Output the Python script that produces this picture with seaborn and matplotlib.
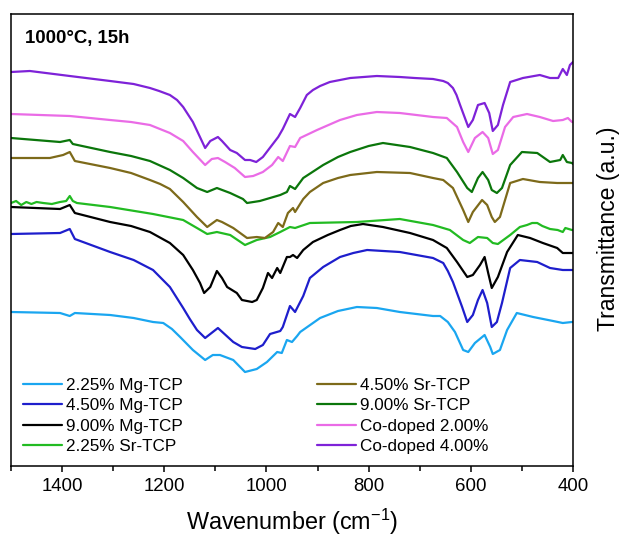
import matplotlib
matplotlib.use("Agg")
import matplotlib.pyplot as plt
from matplotlib.ticker import MultipleLocator
from matplotlib.lines import Line2D
import seaborn as sns
import pandas as pd

# ---------------- data (y in arbitrary units) ----------------
labels = ["2.25% Mg-TCP", "4.50% Mg-TCP", "9.00% Mg-TCP", "2.25% Sr-TCP",
          "4.50% Sr-TCP", "9.00% Sr-TCP", "Co-doped 2.00%", "Co-doped 4.00%"]
colors = ["#1AA6F0", "#1E1ECC", "#000000", "#22BB22",
          "#7D6A1A", "#0B760B", "#EA6BE6", "#7E22D8"]

wn_mg225 = [1500,1404,1385,1375,1306,1260,1222,1202,1185,1169,1144,1120,1105,1091,1065,1042,1019,999,979,970,960,950,940,934,895,860,823,784,739,674,660,645,631,615,605,592,573,562,557,543,529,510,478,439,420,402,400]
mg225 = [154,153,150,153,151,148,144,143,137,129,116,106,111,111,106,94,97,104,114,113,126,124,130,134,148,155,159,158,154,150,150,144,134,116,114,123,131,119,112,116,136,153,149,145,143,144,144]

wn_mg45 = [1500,1404,1385,1375,1306,1260,1222,1189,1163,1150,1136,1120,1095,1065,1048,1022,1007,993,973,968,954,944,928,915,889,856,830,803,739,674,654,645,635,617,607,596,586,577,568,559,549,539,523,504,470,445,420,400]
mg45 = [232,233,237,227,214,206,196,179,158,147,136,128,138,124,119,117,121,132,135,139,160,154,170,188,199,209,213,216,214,208,203,195,184,159,144,151,166,176,163,139,144,163,198,206,204,198,196,196]

wn_mg9 = [1500,1404,1385,1375,1306,1265,1228,1189,1163,1144,1130,1122,1110,1097,1087,1077,1058,1048,1028,1019,1007,997,989,979,973,960,954,948,940,928,909,880,856,835,811,772,719,674,647,627,607,596,582,573,566,559,547,529,508,484,459,431,420,402,400]
mg9 = [259,257,261,253,244,240,234,223,211,196,183,173,179,195,188,179,173,166,164,166,178,193,188,198,193,209,209,211,208,216,224,231,236,240,242,239,233,226,218,204,189,191,201,209,193,178,189,214,231,228,223,218,213,213,213]

wn_sr225 = [1500,1490,1480,1470,1460,1450,1437,1420,1404,1392,1385,1379,1371,1306,1222,1163,1136,1116,1097,1071,1042,1019,993,973,954,944,915,823,739,674,641,615,602,586,568,557,547,523,504,490,480,470,460,445,430,420,415,402,400]
sr225 = [263,265,261,264,262,264,263,262,264,265,270,265,263,259,252,246,238,232,234,231,221,226,229,234,239,238,243,244,247,241,236,226,223,229,228,223,222,231,239,241,243,243,240,237,236,234,238,236,236]

wn_sr45 = [1500,1424,1398,1385,1375,1306,1265,1228,1208,1189,1163,1136,1116,1097,1087,1065,1038,1019,1003,987,977,968,958,948,944,928,915,889,860,836,784,719,674,654,635,615,605,596,578,568,559,553,543,533,523,498,465,431,400]
sr45 = [308,308,311,314,305,298,293,286,282,277,264,249,239,246,244,238,228,229,228,234,243,239,253,258,254,267,274,283,288,291,294,293,288,286,278,256,244,254,266,261,249,244,249,266,283,287,284,283,283]

wn_sr9 = [1500,1404,1385,1379,1306,1265,1228,1189,1163,1136,1116,1097,1071,1046,1038,1013,973,960,954,944,928,889,860,836,800,772,719,674,647,627,607,598,586,577,566,559,549,539,523,500,470,445,425,420,412,402,400]
sr9 = [328,324,326,322,314,310,305,296,288,278,274,278,273,267,263,265,271,274,280,277,288,301,309,314,320,323,319,313,308,294,278,274,288,294,286,276,273,278,301,314,313,304,306,311,304,303,302]

wn_co2 = [1500,1385,1306,1265,1228,1189,1163,1144,1120,1107,1095,1081,1062,1042,1026,1007,989,977,968,954,944,934,901,856,823,784,739,674,647,627,615,605,592,577,566,557,547,533,517,490,465,439,420,410,402,400]
co2 = [352,350,346,344,341,333,325,314,301,307,308,304,298,289,290,294,301,309,305,320,319,328,336,346,351,354,353,349,348,339,324,314,328,334,328,312,316,339,349,352,349,345,346,348,344,344]

wn_co4 = [1500,1463,1385,1306,1260,1228,1210,1189,1175,1163,1144,1120,1110,1095,1087,1071,1058,1042,1032,1020,1007,989,977,968,954,944,934,921,909,895,876,856,836,784,739,710,674,654,645,635,628,621,605,596,586,573,564,557,547,537,523,498,465,445,429,420,412,406,400]
co4 = [394,395,390,385,382,378,375,371,366,359,344,318,325,329,325,316,313,306,306,304,309,321,329,337,352,349,358,371,376,380,384,386,388,390,389,388,387,385,383,378,371,361,339,346,361,363,353,335,341,361,384,388,391,388,388,397,391,401,404]

x_ticks = [1400, 1200, 1000, 800, 600, 400]
title_text = "1000°C, 15h"

series = [(wn_mg225, mg225), (wn_mg45, mg45), (wn_mg9, mg9), (wn_sr225, sr225),
          (wn_sr45, sr45), (wn_sr9, sr9), (wn_co2, co2), (wn_co4, co4)]
frames = []
for lab, (wn, val) in zip(labels, series):
    frames.append(pd.DataFrame({"wn": wn, "T": val, "sample": lab}))
df = pd.concat(frames, ignore_index=True)

# ---------------- style ----------------
sns.set_theme(style="ticks")
plt.rcParams["font.family"] = ["Liberation Sans", "DejaVu Sans"]
plt.rcParams["mathtext.default"] = "regular"
plt.rcParams["mathtext.fontset"] = "custom"
plt.rcParams["mathtext.rm"] = "Liberation Sans"
plt.rcParams["mathtext.it"] = "Liberation Sans"
plt.rcParams["text.color"] = "black"
plt.rcParams["axes.labelcolor"] = "black"
plt.rcParams["xtick.color"] = "black"
plt.rcParams["ytick.color"] = "black"

fig = plt.figure(figsize=(6.19, 5.37), dpi=100)
ax = fig.add_axes([11/619, 71/537, 562/619, 452/537])

palette = dict(zip(labels, colors))
sns.lineplot(data=df, x="wn", y="T", hue="sample", hue_order=labels,
             palette=palette, estimator=None, sort=True, linewidth=1.6,
             legend=False, ax=ax)

ax.set_xlim(1500, 400)
ax.set_ylim(0, 452)
ax.set_xticks(x_ticks)
ax.xaxis.set_minor_locator(MultipleLocator(100))
ax.set_yticks([])
ax.tick_params(axis="x", which="major", direction="out", length=4, width=1.1,
               labelsize=13.4, pad=4.5, colors="black", labelcolor="black")
ax.tick_params(axis="x", which="minor", direction="out", length=3.5, width=1.1,
               colors="black")
for s in ax.spines.values():
    s.set_linewidth(1.1)
    s.set_color("black")
    s.set_visible(True)

ax.set_xlabel("Wavenumber (cm$^{-1}$)", fontsize=16.8, color="black")
ax.xaxis.set_label_coords(0.5, -0.090)
ax.set_ylabel("Transmittance (a.u.)", fontsize=16.6, color="black")
ax.yaxis.set_label_position("right")
ax.yaxis.set_label_coords(1.0427, 0.525)

ax.text(0.0249, 0.9365, title_text, transform=ax.transAxes, fontsize=13.4,
        fontweight="bold", ha="left", va="baseline", color="black")

handles = [Line2D([], [], color=c, lw=1.6) for c in colors]
leg = ax.legend(handles, labels, ncol=2, loc="upper left",
                bbox_to_anchor=(0.0214, 0.1947), frameon=False, fontsize=12.3,
                handlelength=2.28, handletextpad=0.22, columnspacing=7.9,
                labelspacing=0.32, borderpad=0, borderaxespad=0)
for t in leg.get_texts():
    t.set_color("black")

fig.savefig("out.png", dpi=100)
